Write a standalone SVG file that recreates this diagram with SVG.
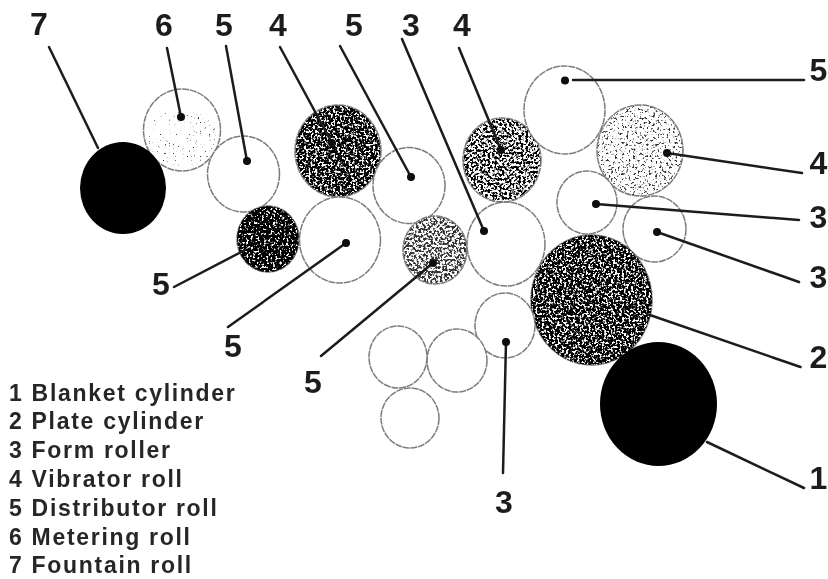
<svg xmlns="http://www.w3.org/2000/svg" width="828" height="579" viewBox="0 0 828 579">
<style>
.r{fill:#fff;stroke:#7c7c7c;stroke-width:1.5;stroke-dasharray:7 .8}
.k{fill:#000;stroke:none}
.s{fill:#000;stroke:none}
.g{fill:#333;stroke:none}
.d1{filter:url(#darkest)}.d2{filter:url(#dark)}.d3{filter:url(#mid)}.d4{filter:url(#light)}.d5{filter:url(#faint)}
.c line{stroke:#1c1c1c;stroke-width:2.5;stroke-linecap:round}
.c circle{fill:#0a0a0a}
.n{font:bold 32px "Liberation Sans",Arial,sans-serif;fill:#1e1e1e;text-anchor:middle}
.l{font:bold 23px "Liberation Sans",Arial,sans-serif;fill:#262626;letter-spacing:1.7px}
</style>
<defs>
<filter id="soft" x="0" y="0" width="828" height="579" filterUnits="userSpaceOnUse"><feGaussianBlur stdDeviation=".65"/></filter>
<filter id="darkest" x="0" y="0" width="1" height="1" color-interpolation-filters="sRGB"><feTurbulence type="fractalNoise" baseFrequency=".45" numOctaves="2" seed="4"/><feColorMatrix values="0 0 0 0 0 0 0 0 0 0 0 0 0 0 0 0 0 0 8 -2.6"/><feComposite in="SourceGraphic" operator="in"/></filter>
<filter id="dark" x="0" y="0" width="1" height="1" color-interpolation-filters="sRGB"><feTurbulence type="fractalNoise" baseFrequency=".45" numOctaves="2" seed="9"/><feColorMatrix values="0 0 0 0 0 0 0 0 0 0 0 0 0 0 0 0 0 0 8 -3"/><feComposite in="SourceGraphic" operator="in"/></filter>
<filter id="mid" x="0" y="0" width="1" height="1" color-interpolation-filters="sRGB"><feTurbulence type="fractalNoise" baseFrequency=".42" numOctaves="2" seed="15"/><feColorMatrix values="0 0 0 0 0 0 0 0 0 0 0 0 0 0 0 0 0 0 8 -3.6"/><feComposite in="SourceGraphic" operator="in"/></filter>
<filter id="light" x="0" y="0" width="1" height="1" color-interpolation-filters="sRGB"><feTurbulence type="fractalNoise" baseFrequency=".45" numOctaves="2" seed="22"/><feColorMatrix values="0 0 0 0 0 0 0 0 0 0 0 0 0 0 0 0 0 0 8 -4.6"/><feComposite in="SourceGraphic" operator="in"/></filter>
<filter id="faint" x="0" y="0" width="1" height="1" color-interpolation-filters="sRGB"><feTurbulence type="fractalNoise" baseFrequency=".45" numOctaves="2" seed="31"/><feColorMatrix values="0 0 0 0 0 0 0 0 0 0 0 0 0 0 0 0 0 0 8 -5.5"/><feComposite in="SourceGraphic" operator="in"/></filter>
</defs>
<rect width="828" height="579" fill="#fff"/>
<g filter="url(#soft)">
<g id="rollers">
<g id="roll-metering"><ellipse class="r" cx="182" cy="130" rx="38.5" ry="41"/><ellipse class="g d5" cx="182" cy="138" rx="36" ry="28"/></g>
<g id="roll-distributor-a"><ellipse class="r" cx="243.500" cy="174" rx="36" ry="38"/></g>
<g id="roll-fountain"><ellipse class="k" cx="123" cy="188" rx="43" ry="46"/></g>
<g id="roll-vibrator-a"><ellipse class="r" cx="338" cy="151" rx="43" ry="46"/><ellipse class="s d2" cx="338" cy="151" rx="42.500" ry="45.500"/></g>
<g id="roll-distributor-b"><ellipse class="r" cx="268" cy="239" rx="31" ry="33"/><ellipse class="s d1" cx="268" cy="239" rx="31" ry="33"/></g>
<g id="roll-distributor-c"><ellipse class="r" cx="340" cy="240" rx="40.500" ry="43"/></g>
<g id="roll-distributor-d"><ellipse class="r" cx="409" cy="185.500" rx="36" ry="38"/></g>
<g id="roll-distributor-e"><ellipse class="r" cx="435" cy="250" rx="32" ry="34"/><ellipse class="g d3" cx="435" cy="250" rx="31.500" ry="33.500"/></g>
<g id="roll-form-a"><ellipse class="r" cx="506" cy="244" rx="39" ry="42"/></g>
<g id="roll-vibrator-b"><ellipse class="r" cx="502" cy="160" rx="39" ry="42"/><ellipse class="s d3" cx="502" cy="160" rx="38.500" ry="41.500"/></g>
<g id="roll-distributor-f"><ellipse class="r" cx="564.500" cy="110" rx="40.500" ry="44"/></g>
<g id="roll-vibrator-c"><ellipse class="r" cx="640" cy="150.500" rx="43" ry="45.500"/><ellipse class="g d4" cx="640" cy="150.500" rx="42.500" ry="45"/></g>
<g id="roll-form-b"><ellipse class="r" cx="587" cy="202.500" rx="30" ry="31.500"/></g>
<g id="roll-form-c"><ellipse class="r" cx="654.500" cy="229" rx="31.500" ry="33"/></g>
<g id="cylinder-plate"><ellipse class="r" cx="591.500" cy="300" rx="60.500" ry="65"/><ellipse class="s d2" cx="591.500" cy="300" rx="60.500" ry="65"/></g>
<g id="cylinder-blanket"><ellipse class="k" cx="658.500" cy="404" rx="58.500" ry="62"/></g>
<g id="roll-form-d"><ellipse class="r" cx="505" cy="325.500" rx="30" ry="32.500"/></g>
<g id="roll-g"><ellipse class="r" cx="457" cy="360.500" rx="30" ry="31.500"/></g>
<g id="roll-h"><ellipse class="r" cx="398" cy="357" rx="29" ry="31"/></g>
<g id="roll-i"><ellipse class="r" cx="410" cy="418" rx="29" ry="30"/></g>
</g>
<g id="connectors" class="c">
<line x1="49" y1="47" x2="98" y2="148"/>
<line x1="167" y1="48" x2="181" y2="117"/><circle cx="181" cy="117" r="4"/>
<line x1="226" y1="46" x2="247" y2="161"/><circle cx="247" cy="161" r="4"/>
<line x1="280" y1="47" x2="332" y2="143"/><circle cx="332" cy="143" r="4"/>
<line x1="340" y1="46" x2="411" y2="177"/><circle cx="411" cy="177" r="4"/>
<line x1="402" y1="39" x2="484" y2="231"/><circle cx="484" cy="231" r="4"/>
<line x1="459" y1="48" x2="501" y2="150"/><circle cx="501" cy="150" r="4"/>
<line x1="573" y1="80" x2="804" y2="80"/><circle cx="565" cy="80.500" r="4"/>
<line x1="667" y1="153" x2="802" y2="173"/><circle cx="667" cy="153" r="4"/>
<line x1="596" y1="204" x2="799" y2="220"/><circle cx="596" cy="204" r="4"/>
<line x1="657" y1="232" x2="799" y2="282"/><circle cx="657" cy="232" r="4"/>
<line x1="174" y1="287" x2="245" y2="250"/>
<line x1="346" y1="243" x2="228" y2="327"/><circle cx="346" cy="243" r="4"/>
<line x1="433" y1="263" x2="321" y2="356"/><circle cx="433" cy="263" r="4"/>
<line x1="506" y1="342" x2="503" y2="473"/><circle cx="506" cy="342" r="4"/>
<line x1="647" y1="314" x2="800.500" y2="367"/>
<line x1="707" y1="442" x2="804" y2="488"/>
</g>
<g id="labels">
<text class="n" x="39" y="35">7</text>
<text class="n" x="164" y="36">6</text>
<text class="n" x="224" y="36">5</text>
<text class="n" x="278" y="36">4</text>
<text class="n" x="354" y="36">5</text>
<text class="n" x="411" y="36">3</text>
<text class="n" x="462" y="36">4</text>
<text class="n" x="818.500" y="81">5</text>
<text class="n" x="818.500" y="174">4</text>
<text class="n" x="818.500" y="228">3</text>
<text class="n" x="818.500" y="288">3</text>
<text class="n" x="818.500" y="368">2</text>
<text class="n" x="818.500" y="489">1</text>
<text class="n" x="161" y="295">5</text>
<text class="n" x="233" y="357">5</text>
<text class="n" x="313" y="393">5</text>
<text class="n" x="504" y="513">3</text>
</g>
<g id="legend">
<text class="l" x="9" y="401">1 Blanket cylinder</text>
<text class="l" x="9" y="429">2 Plate cylinder</text>
<text class="l" x="9" y="458">3 Form roller</text>
<text class="l" x="9" y="487">4 Vibrator roll</text>
<text class="l" x="9" y="516">5 Distributor roll</text>
<text class="l" x="9" y="545">6 Metering roll</text>
<text class="l" x="9" y="573">7 Fountain roll</text>
</g>
</g>
</svg>
